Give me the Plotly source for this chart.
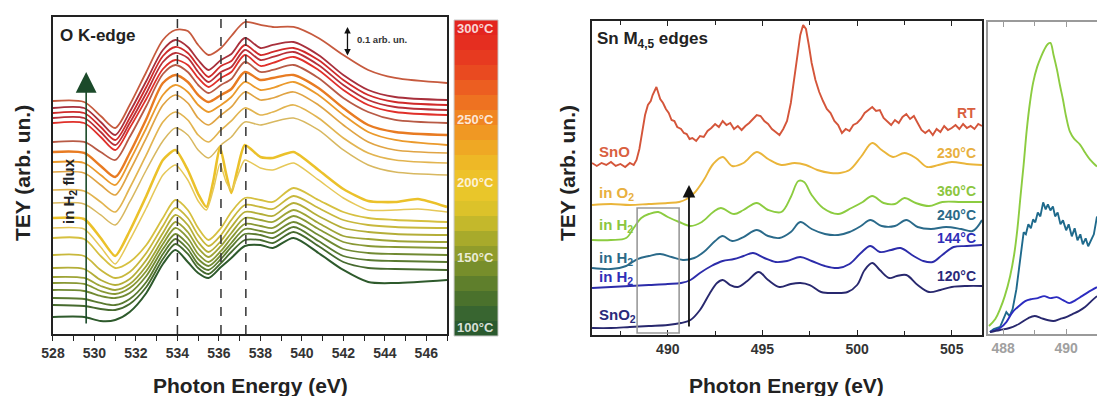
import plotly.graph_objects as go

FONT = "Liberation Sans, Arial, sans-serif"

# ---------------- O K-edge (left panel) ----------------
O_E = [528, 529.5, 530.3, 531.0, 531.7, 532.5, 533.3, 533.9, 534.5, 535.0, 535.5,
       536.1, 536.6, 537.25, 538.0, 538.6, 539.6, 540.8, 542.0, 543.2, 544.5, 547]

O_TEY = [
    [233, 232, 218, 206, 229, 262, 294, 304, 303, 289, 279, 286, 298, 312, 309, 307, 307, 296, 279, 264, 256, 251],
    [226, 226, 212, 199, 222, 253, 284, 294, 287, 274, 264, 274, 280, 296, 286, 289, 292, 279, 259, 244, 237, 234],
    [221, 221, 207, 194, 216, 247, 278, 287, 281, 268, 257, 268, 273, 289, 279, 282, 286, 274, 254, 239, 232, 229],
    [216, 216, 202, 189, 211, 241, 272, 281, 276, 262, 252, 262, 267, 284, 274, 277, 282, 269, 249, 234, 227, 224],
    [211, 211, 197, 184, 206, 235, 265, 274, 269, 256, 247, 256, 262, 279, 268, 271, 277, 264, 244, 229, 222, 219],
    [192, 192, 182, 174, 197, 228, 260, 269, 262, 249, 241, 249, 255, 272, 262, 264, 269, 256, 236, 222, 214, 211],
    [182, 181, 168, 157, 181, 215, 251, 259, 252, 239, 232, 239, 245, 262, 254, 256, 259, 246, 226, 209, 202, 199],
    [172, 171, 159, 149, 173, 206, 239, 249, 242, 229, 222, 229, 237, 252, 244, 246, 252, 239, 219, 202, 194, 189],
    [162, 161, 149, 139, 163, 196, 229, 239, 231, 216, 209, 219, 227, 242, 234, 236, 242, 229, 209, 192, 184, 181],
    [144, 143, 132, 122, 146, 179, 212, 222, 214, 199, 192, 204, 213, 226, 219, 222, 229, 216, 196, 181, 174, 171],
    [131, 130, 119, 109, 132, 164, 193, 206, 199, 184, 176, 189, 197, 212, 209, 212, 216, 204, 184, 169, 162, 159],
    [96, 95, 78, 66, 72, 89, 116, 134, 124, 106, 94, 106, 122, 136, 134, 132, 146, 134, 122, 116, 114, 112],
    [79, 78, 64, 56, 62, 81, 108, 126, 116, 99, 88, 99, 114, 129, 127, 125, 138, 126, 114, 109, 107, 106],
    [66, 65, 54, 49, 55, 74, 101, 119, 109, 92, 82, 93, 107, 122, 120, 118, 131, 118, 106, 102, 100, 99],
    [57, 56, 48, 44, 50, 68, 95, 112, 102, 86, 77, 88, 101, 116, 114, 112, 124, 111, 98, 95, 93, 92],
    [51, 50, 43, 40, 46, 63, 90, 106, 96, 80, 72, 83, 96, 110, 108, 106, 118, 105, 92, 88, 87, 86],
    [44, 43, 38, 36, 41, 58, 85, 100, 90, 75, 68, 79, 91, 105, 103, 101, 112, 99, 85, 81, 80, 79],
    [36, 35, 31, 29, 35, 52, 80, 95, 85, 70, 64, 75, 87, 100, 99, 96, 107, 93, 78, 74, 73, 72],
    [29, 28, 25, 24, 30, 47, 75, 90, 80, 66, 60, 71, 82, 94, 94, 91, 102, 88, 72, 66, 65, 64],
    [17, 17, 13, 14, 22, 41, 70, 84, 72, 61, 56, 67, 76, 88, 89, 86, 96, 81, 64, 52, 51, 54],
]
O_COLORS = ["#c65a3e", "#a8303c", "#d02a2a", "#b83038", "#e0302a", "#b85a45", "#e87b22",
            "#eb9a2c", "#e0a444", "#e2b450", "#d8b860", "#d6c040",
            "#c8b83c", "#b4ae38", "#9ea436", "#889834", "#718a32", "#5a7a30", "#466a2e", "#2e5a2c"]
O_WIDTHS = [1.8, 1.8, 1.8, 1.8, 1.8, 1.8, 2.4, 1.8, 1.7, 1.7, 1.5,
            1.8, 1.8, 1.8, 1.8, 1.8, 1.8, 1.8, 1.8, 2.0]

# the two spectra with the sharp doublet (finer energy sampling)
O_E_DOUBLET = [528, 529.5, 530.3, 531.0, 531.7, 532.5, 533.3, 533.9, 534.5, 535.0, 535.4, 535.75,
               536.05, 536.35, 536.6, 536.9, 537.25, 538.0, 538.6, 539.6, 540.8, 542.0, 543.2,
               544.5, 545.6, 547]
O_TEY_DOUBLET = [
    [116, 115, 96, 78, 103, 138, 174, 184, 164, 140, 127, 155, 187, 160, 141, 165, 189, 177, 176,
     182, 164, 145, 133, 132, 135, 127],
    [106, 105, 87, 70, 94, 126, 159, 169, 154, 133, 124, 146, 170, 152, 144, 158, 174, 166, 164,
     171, 154, 136, 124, 124, 125, 122],
]
O_COLORS_DOUBLET = ["#ebc12a", "#e6c858"]
O_WIDTHS_DOUBLET = [2.6, 1.5]
O_DASH_E = [534.0, 536.1, 537.3]

CB_TEMPS = list(range(100, 301, 10))
CB_COLORS = ["#2a5a2e", "#386530", "#4a712c", "#5f7f2c", "#778e2b", "#909c2b", "#a8aa2b",
             "#c4b82b", "#dcc22a", "#e9c62a", "#eec22a", "#eeb826", "#efa824", "#f09823",
             "#f08522", "#ee7221", "#ec5e21", "#e94a20", "#e73a20", "#e52e20", "#e3251f"]
CB_LABELS = ["300°C", "250°C", "200°C", "150°C", "100°C"]
CB_LABEL_Y = [0.9268, 0.697, 0.5404, 0.351, 0.1742]

# ---------------- Sn M4,5 edges (middle panel) ----------------
SN_E_RT = [486.0, 486.25, 486.5, 486.75, 487.0, 487.25, 487.5, 487.75, 488.0, 488.2, 488.35, 488.5,
           488.65, 488.8, 488.95, 489.1, 489.2, 489.3, 489.4, 489.5, 489.6, 489.75, 489.9, 490.05,
           490.2, 490.35, 490.5, 490.7, 490.85, 491.0, 491.15, 491.3, 491.5, 491.7, 491.9, 492.1,
           492.3, 492.5, 492.7, 492.9, 493.1, 493.3, 493.5, 493.7, 493.9, 494.1, 494.3, 494.5,
           494.7, 494.9, 495.1, 495.3, 495.5, 495.7, 495.9, 496.1, 496.3, 496.5, 496.7, 496.85,
           497.0, 497.15, 497.3, 497.45, 497.6, 497.8, 498.0, 498.2, 498.4, 498.6, 498.8, 499.0,
           499.2, 499.4, 499.6, 499.8, 500.0, 500.2, 500.4, 500.6, 500.8, 501.0, 501.2, 501.4,
           501.6, 501.8, 502.0, 502.2, 502.4, 502.6, 502.8, 503.0, 503.2, 503.4, 503.6, 503.8,
           504.0, 504.2, 504.4, 504.6, 504.8, 505.0, 505.2, 505.4, 505.6, 505.8, 506.0, 506.2,
           506.4, 506.6]
SN_TEY_RT = [172, 169, 172, 170, 173, 169, 171, 168, 172, 170, 175, 186,
             203, 220, 230, 234, 240, 245, 248, 242, 236, 232, 226, 222,
             215, 214, 208, 206, 202, 201, 196, 197, 194, 199, 198, 204,
             207, 211, 208, 214, 210, 212, 206, 209, 205, 209, 212, 216,
             220, 219, 214, 211, 206, 203, 200, 206, 214, 232, 258, 280,
             300, 310, 306, 290, 272, 255, 243, 234, 226, 222, 214, 210,
             202, 206, 204, 210, 212, 216, 222, 225, 228, 224, 225, 217,
             213, 210, 215, 212, 218, 221, 216, 219, 212, 205, 202, 205,
             200, 206, 203, 209, 205, 207, 210, 206, 211, 207, 209, 206,
             211, 209]

SN_E_230 = [486, 487, 488, 489, 490, 490.6, 491.0, 491.4, 491.9, 492.4, 492.9, 493.4, 494.0,
            494.7, 495.3, 496.0, 496.7, 497.3, 497.9, 498.6, 499.1, 499.6, 500.2, 500.8, 501.3,
            501.9, 502.5, 503.1, 503.7, 504.3, 505.0, 505.8, 506.6]
SN_TEY_230 = [130, 131, 130, 131, 132, 133, 136, 142, 155, 171, 178, 169, 172, 183, 176, 170,
              172, 170, 165, 162, 162, 165, 178, 192, 185, 178, 182, 177, 168, 170, 173, 171, 170]

SN_E_360 = [486, 487, 487.8, 488.2, 488.6, 489.0, 489.5, 490.0, 490.6, 491.2, 491.8, 492.4, 492.8,
            493.5, 494.0, 494.7, 495.3, 496.0, 496.5, 496.9, 497.2, 497.6, 498.2, 499.0, 499.7,
            500.3, 500.8, 501.4, 502.0, 502.5, 503.1, 503.8, 504.5, 505.5, 506.6]
SN_TEY_360 = [95, 95, 97, 107, 117, 121, 123, 118, 113, 109, 113, 123, 127, 121, 125, 132, 125,
              123, 138, 154, 153, 140, 127, 121, 127, 133, 139, 132, 131, 137, 132, 129, 133, 133, 133]

SN_E_240 = [486, 487, 487.8, 488.4, 489.0, 489.6, 490.2, 490.8, 491.4, 491.9, 492.5, 492.9, 493.4,
            494.0, 494.7, 495.3, 495.9, 496.5, 497.0, 497.6, 498.3, 499.0, 499.6, 500.2, 500.7,
            501.3, 502.0, 502.6, 503.2, 503.9, 504.7, 505.5, 506.1, 506.6]
SN_TEY_240 = [67, 66, 69, 76, 79, 81, 78, 75, 77, 83, 94, 99, 94, 98, 105, 99, 97, 103, 113, 106,
              101, 100, 103, 109, 115, 109, 109, 115, 108, 106, 108, 106, 104, 115]

SN_E_144 = [486, 487, 488, 489, 490, 490.7, 491.2, 491.7, 492.3, 492.9, 493.5, 494.0, 494.5,
            495.1, 495.7, 496.3, 497.0, 497.6, 498.3, 499.0, 499.6, 500.2, 500.7, 501.2, 501.8,
            502.3, 502.9, 503.5, 504.0, 504.5, 505.1, 505.8, 506.6]
SN_TEY_144 = [47, 48, 49, 50, 51, 52, 55, 62, 69, 74, 76, 79, 82, 77, 73, 74, 78, 74, 69, 67, 71,
              82, 89, 83, 85, 87, 80, 74, 73, 80, 88, 89, 90]

SN_E_120 = [486, 487, 488, 489, 490, 490.7, 491.2, 491.7, 492.2, 492.6, 492.9, 493.3, 493.7,
            494.2, 494.8, 495.3, 495.9, 496.5, 497.0, 497.5, 498.1, 498.8, 499.5, 500.0, 500.4,
            500.8, 501.2, 501.7, 502.1, 502.6, 503.2, 503.8, 504.4, 505.0, 505.8, 506.6]
SN_TEY_120 = [7, 7, 8, 9, 10, 12, 15, 25, 41, 52, 55, 50, 48, 54, 63, 55, 48, 51, 52, 50, 43, 42,
              43, 50, 65, 72, 65, 57, 59, 60, 50, 43, 45, 48, 49, 49]

SN_LEFT_LABELS = ["SnO", "in O<sub>2</sub>", "in H<sub>2</sub>", "in H<sub>2</sub>", "in H<sub>2</sub>", "SnO<sub>2</sub>"]
SN_RIGHT_LABELS = ["RT", "230°C", "360°C", "240°C", "144°C", "120°C"]
SN_COLORS = ["#d4553a", "#eab53a", "#8ccc40", "#2a6a8a", "#2c2caa", "#28286e"]
SN_LABEL_COLORS = ["#d9603f", "#e8b040", "#8cc63f", "#2b6a88", "#2f2fb8", "#2a2a7a"]
SN_LEFT_Y = [0.6162, 0.5126, 0.4318, 0.346, 0.298, 0.2045]
SN_RIGHT_Y = [0.7146, 0.6136, 0.5177, 0.4571, 0.399, 0.303]

BOX_E = [488.38, 490.6]
BOX_TEY = [2, 127]
ARROW_E = 491.12
ARROW_TEY = [7, 150]

# ---------------- inset (right panel) ----------------
IN_E_GREEN = [487.55, 487.75, 487.9, 488.05, 488.22, 488.35, 488.45, 488.55, 488.65, 488.75, 488.85,
              488.95, 489.08, 489.2, 489.3, 489.42, 489.5, 489.6, 489.71, 489.8, 489.9, 490.0,
              490.12, 490.25, 490.44, 490.6, 490.76, 490.98]
IN_TEY_GREEN = [8, 15, 25, 38, 58, 80, 105, 138, 170, 205, 232, 252, 268, 278, 285, 291, 292, 280,
                265, 250, 235, 218, 203, 196, 190, 182, 175, 168]
IN_E_TEAL = [487.58, 487.7, 487.9, 488.0, 488.1, 488.2, 488.3, 488.42, 488.5, 488.58, 488.65, 488.72,
             488.8, 488.88, 488.95, 489.02, 489.1, 489.18, 489.27, 489.35, 489.42, 489.5, 489.58,
             489.65, 489.73, 489.82, 489.9, 490.0, 490.08, 490.18, 490.27, 490.36, 490.45, 490.53,
             490.62, 490.7, 490.8, 490.88, 490.98]
IN_TEY_TEAL = [2, 5, 7, 15, 22, 18, 25, 45, 65, 90, 102, 100, 110, 106, 115, 112, 122, 118, 132, 125,
               130, 124, 128, 118, 122, 110, 114, 104, 110, 98, 106, 94, 100, 90, 96, 88, 95, 100, 118]
IN_E_BLUE = [487.58, 487.9, 488.1, 488.3, 488.5, 488.7, 488.9, 489.1, 489.3, 489.5, 489.7, 489.9,
             490.1, 490.3, 490.5, 490.7, 490.98]
IN_TEY_BLUE = [2, 6, 12, 22, 28, 33, 35, 36, 38, 36, 37, 34, 31, 34, 38, 42, 47]
IN_E_NAVY = [487.58, 487.9, 488.2, 488.5, 488.8, 489.0, 489.2, 489.4, 489.6, 489.8, 490.0, 490.2,
             490.4, 490.6, 490.8, 490.98]
IN_TEY_NAVY = [2, 4, 6, 10, 16, 18, 16, 14, 13, 15, 17, 20, 23, 27, 33, 38]

fig = go.Figure()

# left panel curves (top to bottom order of drawing)
for tey, col, w in zip(O_TEY[:11], O_COLORS[:11], O_WIDTHS[:11]):
    fig.add_trace(go.Scatter(x=O_E, y=tey, mode="lines", xaxis="x", yaxis="y",
                             line=dict(color=col, width=w, shape="spline", smoothing=0.8),
                             showlegend=False, hoverinfo="skip"))
for tey, col, w in zip(O_TEY_DOUBLET, O_COLORS_DOUBLET, O_WIDTHS_DOUBLET):
    fig.add_trace(go.Scatter(x=O_E_DOUBLET, y=tey, mode="lines", xaxis="x", yaxis="y",
                             line=dict(color=col, width=w, shape="spline", smoothing=0.6),
                             showlegend=False, hoverinfo="skip"))
for tey, col, w in zip(O_TEY[11:], O_COLORS[11:], O_WIDTHS[11:]):
    fig.add_trace(go.Scatter(x=O_E, y=tey, mode="lines", xaxis="x", yaxis="y",
                             line=dict(color=col, width=w, shape="spline", smoothing=0.8),
                             showlegend=False, hoverinfo="skip"))

# colour bar
n_cb = len(CB_TEMPS)
fig.add_trace(go.Heatmap(z=[[t] for t in CB_TEMPS], y=CB_TEMPS, x=[0], xaxis="x2", yaxis="y2",
                         zmin=CB_TEMPS[0], zmax=CB_TEMPS[-1], showscale=False, hoverinfo="skip",
                         colorscale=[[i / (n_cb - 1), c] for i, c in enumerate(CB_COLORS)]))

# middle panel
for ex, ty, col, shp in zip([SN_E_RT, SN_E_230, SN_E_360, SN_E_240, SN_E_144, SN_E_120],
                            [SN_TEY_RT, SN_TEY_230, SN_TEY_360, SN_TEY_240, SN_TEY_144, SN_TEY_120],
                            SN_COLORS, ["linear", "spline", "spline", "spline", "spline", "spline"]):
    fig.add_trace(go.Scatter(x=ex, y=ty, mode="lines", xaxis="x3", yaxis="y3",
                             line=dict(color=col, width=1.9, shape=shp),
                             showlegend=False, hoverinfo="skip"))

# inset
for ex, ty, col, shp in [(IN_E_GREEN, IN_TEY_GREEN, SN_COLORS[2], "spline"),
                         (IN_E_TEAL, IN_TEY_TEAL, "#1f6a8c", "linear"),
                         (IN_E_BLUE, IN_TEY_BLUE, "#2c2cc0", "spline"),
                         (IN_E_NAVY, IN_TEY_NAVY, SN_COLORS[5], "spline")]:
    fig.add_trace(go.Scatter(x=ex, y=ty, mode="lines", xaxis="x4", yaxis="y4",
                             line=dict(color=col, width=1.9, shape=shp),
                             showlegend=False, hoverinfo="skip"))

shapes = []
for e in O_DASH_E:
    shapes.append(dict(type="line", xref="x", yref="y domain", x0=e, x1=e, y0=0, y1=1,
                       line=dict(color="#333", width=1.5, dash="dash")))
shapes.append(dict(type="rect", xref="x2 domain", yref="y2 domain", x0=0, x1=1, y0=0, y1=1,
                   line=dict(color="#c8c8c8", width=1)))
shapes.append(dict(type="rect", xref="x3", yref="y3", x0=BOX_E[0], x1=BOX_E[1],
                   y0=BOX_TEY[0], y1=BOX_TEY[1], line=dict(color="#9a9a9a", width=1.6)))

ann = []
def txt(x, y, text, size, color="#222", xanchor="center", angle=0, xref="paper", yref="paper"):
    ann.append(dict(x=x, y=y, xref=xref, yref=yref, text=text, showarrow=False,
                    xanchor=xanchor, yanchor="middle", textangle=angle,
                    font=dict(family=FONT, size=size, color=color, weight="bold")))

txt(0.0529, 0.9116, "O K-edge", 17, xanchor="left")
txt(0.3236, 0.9015, "0.1 arb. un.", 9.5, color="#333", xanchor="left")
txt(0.0638, 0.5177, "in H<sub>2</sub> flux", 15, angle=-90)
txt(0.020, 0.563, "TEY (arb. un.)", 21, angle=-90)
txt(0.2279, 0.0253, "Photon Energy (eV)", 21)
for lab, yy in zip(CB_LABELS, CB_LABEL_Y):
    txt(0.4339, yy, lab, 13, color="rgba(255,255,255,0.82)")

txt(0.5424, 0.899, "Sn M<sub>4,5</sub> edges", 17, xanchor="left")
txt(0.5169, 0.563, "TEY (arb. un.)", 21, angle=-90)
txt(0.7174, 0.0253, "Photon Energy (eV)", 21)
for lab, yy, col in zip(SN_LEFT_LABELS, SN_LEFT_Y, SN_LABEL_COLORS):
    txt(0.5442, yy, lab, 15, color=col, xanchor="left")
for lab, yy, col in zip(SN_RIGHT_LABELS, SN_RIGHT_Y, SN_LABEL_COLORS):
    txt(0.8915, yy, lab, 14, color=col, xanchor="right")

# arrows
ann.append(dict(x=529.6, y=262, ax=529.6, ay=9, xref="x", yref="y", axref="x", ayref="y",
                text="", showarrow=True, arrowhead=2, arrowsize=2.6, arrowwidth=1.6,
                arrowcolor="#1b4a2a"))
ann.append(dict(x=542.2, y=307, ax=542.2, ay=277, xref="x", yref="y", axref="x", ayref="y",
                text="", showarrow=True, arrowhead=2, arrowside="end+start", arrowsize=1,
                arrowwidth=1.3, arrowcolor="#111"))
ann.append(dict(x=ARROW_E, y=ARROW_TEY[1], ax=ARROW_E, ay=ARROW_TEY[0], xref="x3", yref="y3",
                axref="x3", ayref="y3", text="", showarrow=True, arrowhead=2, arrowsize=1.4,
                arrowwidth=1.8, arrowcolor="#111"))

tickfont = dict(family=FONT, size=14, color="#333", weight="bold")
fig.update_layout(
    width=1097, height=396, autosize=False,
    margin=dict(l=0, r=0, t=0, b=0),
    paper_bgcolor="white", plot_bgcolor="white",
    shapes=shapes, annotations=ann,
    xaxis=dict(domain=[0.0483, 0.4075], range=[528, 547], anchor="y", tickmode="linear",
               tick0=528, dtick=2, ticks="outside", ticklen=5, tickwidth=1.3, tickcolor="#222",
               minor=dict(dtick=1, ticks="outside", ticklen=5, tickcolor="#222", showgrid=False),
               showline=True, linecolor="#222", linewidth=1.6, mirror=True, showgrid=False,
               zeroline=False, tickfont=tickfont, automargin=False),
    yaxis=dict(domain=[0.1566, 0.9571], range=[0, 317], anchor="x", showticklabels=False,
               ticks="", showline=True, linecolor="#222", linewidth=1.6, mirror=True,
               showgrid=False, zeroline=False, automargin=False),
    xaxis2=dict(domain=[0.4139, 0.454], range=[-0.5, 0.5], anchor="y2", visible=False),
    yaxis2=dict(domain=[0.1515, 0.9495], range=[95, 305], anchor="x2", visible=False),
    xaxis3=dict(domain=[0.5397, 0.8952], range=[486, 506.6], anchor="y3", tickmode="linear",
                tick0=0, dtick=5, ticks="inside", ticklen=5, tickwidth=1.3, tickcolor="#222",
                minor=dict(dtick=2.5, ticks="inside", ticklen=4, tickcolor="#222", showgrid=False),
                showline=True, linecolor="#222", linewidth=1.6, mirror="ticks", showgrid=False,
                zeroline=False, tickfont=tickfont, automargin=False),
    yaxis3=dict(domain=[0.154, 0.947], range=[0, 314], anchor="x3", showticklabels=False,
                ticks="", showline=True, linecolor="#222", linewidth=1.6, mirror=True,
                showgrid=False, zeroline=False, automargin=False),
    xaxis4=dict(domain=[0.9007, 1.0], range=[487.52, 490.98], anchor="y4", tickmode="linear",
                tick0=0, dtick=2, ticks="inside", ticklen=5, tickwidth=1.3, tickcolor="#9a9a9a",
                minor=dict(dtick=1, ticks="inside", ticklen=4, tickcolor="#9a9a9a", showgrid=False),
                showline=True, linecolor="#9a9a9a", linewidth=1.6, mirror="ticks", showgrid=False,
                zeroline=False, automargin=False,
                tickfont=dict(family=FONT, size=14, color="#a0a0a0", weight="bold")),
    yaxis4=dict(domain=[0.1566, 0.9444], range=[0, 313], anchor="x4", showticklabels=False,
                ticks="", showline=True, linecolor="#9a9a9a", linewidth=1.6, mirror=False,
                showgrid=False, zeroline=False, automargin=False),
)

fig.write_html("out.html")
